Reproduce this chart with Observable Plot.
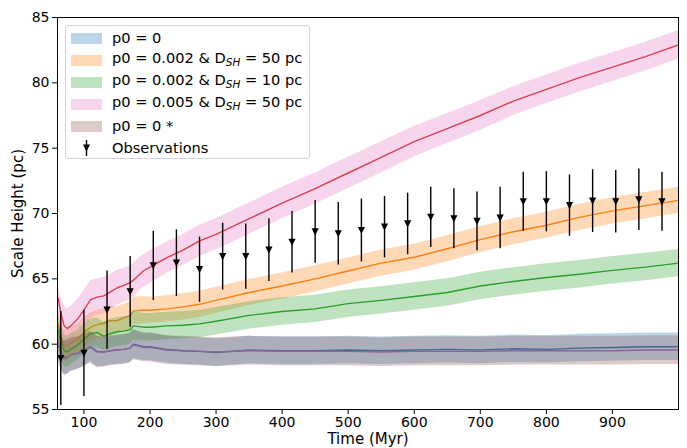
<!DOCTYPE html>
<html>
<head>
<meta charset="utf-8">
<script src="https://cdn.jsdelivr.net/npm/d3@7"></script>
<script src="https://cdn.jsdelivr.net/npm/@observablehq/plot@0.6"></script>
<style>
  html, body { margin: 0; padding: 0; background: white; }
  #wrap { position: relative; width: 687px; height: 448px; font-family: "DejaVu Sans", sans-serif; }
  #legend { position: absolute; left: 65px; top: 25px; width: 245px; height: 134px;
    border: 1px solid #d5d5d5; border-radius: 3px; background: rgba(255,255,255,0.8);
    font-size: 14.6px; color: #000; box-sizing: border-box; }
  .row { position: absolute; left: 0; height: 22px; display: flex; align-items: center; white-space: nowrap; }
  .sw { position: absolute; left: 5px; width: 31px; height: 11px; }
  .lab { position: absolute; left: 46px; line-height: 22px; }
  .lab sub { font-size: 10.5px; font-style: italic; vertical-align: -3px; }
</style>
</head>
<body>
<div id="wrap"></div>
<script>
// ---- data ----
const time = [61, 65, 70, 75, 80, 90, 100, 110, 120, 130, 140, 150, 160, 170, 175, 190, 200, 225, 250, 275, 300, 350, 400, 450, 500, 550, 600, 650, 700, 750, 800, 850, 900, 950, 1000];

// p0 = 0 (blue line / blue band)
const p0_0 = [60.2, 59.4, 59.0, 59.0, 59.2, 59.3, 59.5, 59.8, 59.45, 59.4, 59.5, 59.55, 59.6, 59.7, 60.0, 59.8, 59.8, 59.6, 59.5, 59.45, 59.35, 59.55, 59.5, 59.5, 59.55, 59.5, 59.55, 59.6, 59.55, 59.65, 59.6, 59.7, 59.75, 59.8, 59.8];
const p0_0_err = [1.2, 1.25, 1.3, 1.3, 1.25, 1.2, 1.2, 1.15, 1.15, 1.1, 1.1, 1.1, 1.1, 1.1, 1.1, 1.05, 1.05, 1.05, 1.05, 1.05, 1.05, 1.05, 1.05, 1.05, 1.05, 1.05, 1.05, 1.05, 1.05, 1.05, 1.05, 1.05, 1.05, 1.05, 1.05];

// p0 = 0.002 & DSH = 50 pc (orange)
const p0_002_50 = [61.5, 60.6, 59.9, 59.9, 60.1, 60.4, 60.9, 61.3, 61.5, 61.6, 61.8, 61.8, 62.0, 62.2, 62.55, 62.6, 62.6, 62.7, 62.85, 63.05, 63.35, 63.95, 64.45, 65.0, 65.6, 66.2, 66.65, 67.3, 68.0, 68.6, 69.1, 69.7, 70.2, 70.6, 71.0];
const p0_002_50_err = [1.2, 1.2, 1.2, 1.2, 1.2, 1.15, 1.15, 1.1, 1.1, 1.1, 1.1, 1.05, 1.05, 1.05, 1.05, 1.05, 1.0, 1.0, 1.0, 1.0, 1.0, 1.0, 1.0, 1.0, 1.0, 1.0, 1.0, 1.0, 1.0, 1.0, 1.0, 1.0, 1.0, 1.0, 1.0];

// p0 = 0.002 & DSH = 10 pc (green)
const p0_002_10 = [61.1, 60.2, 59.5, 59.4, 59.6, 59.9, 60.4, 60.8, 60.9, 60.6, 60.8, 60.95, 61.0, 61.1, 61.4, 61.3, 61.3, 61.4, 61.45, 61.55, 61.75, 62.2, 62.5, 62.7, 63.1, 63.35, 63.65, 63.95, 64.45, 64.8, 65.1, 65.35, 65.65, 65.9, 66.2];
const p0_002_10_err = [1.2, 1.2, 1.2, 1.2, 1.2, 1.15, 1.15, 1.1, 1.1, 1.1, 1.1, 1.1, 1.1, 1.1, 1.1, 1.05, 1.05, 1.05, 1.05, 1.05, 1.05, 1.05, 1.05, 1.05, 1.05, 1.05, 1.05, 1.05, 1.05, 1.05, 1.05, 1.05, 1.05, 1.05, 1.05];

// p0 = 0.005 & DSH = 50 pc (red line / pink band)
const p0_005_50 = [63.5, 62.4, 61.4, 61.2, 61.4, 61.9, 62.6, 63.4, 63.6, 63.7, 64.0, 64.3, 64.5, 64.7, 64.9, 65.6, 65.9, 66.6, 67.2, 67.9, 68.4, 69.6, 70.8, 71.9, 73.1, 74.3, 75.5, 76.5, 77.5, 78.6, 79.5, 80.4, 81.2, 82.0, 82.9];
const p0_005_50_err = [1.0, 1.3, 1.5, 1.5, 1.5, 1.5, 1.5, 1.45, 1.4, 1.4, 1.35, 1.35, 1.3, 1.3, 1.3, 1.25, 1.25, 1.2, 1.2, 1.2, 1.2, 1.2, 1.2, 1.2, 1.2, 1.2, 1.15, 1.15, 1.15, 1.1, 1.1, 1.1, 1.1, 1.1, 1.1];

// p0 = 0 * (purple line / brown band)
const p0_0_star = [60.0, 59.3, 58.9, 59.0, 59.2, 59.3, 59.55, 59.75, 59.4, 59.4, 59.5, 59.55, 59.6, 59.7, 59.95, 59.75, 59.75, 59.55, 59.5, 59.45, 59.4, 59.5, 59.45, 59.45, 59.45, 59.4, 59.45, 59.45, 59.45, 59.5, 59.5, 59.5, 59.5, 59.55, 59.55];
const p0_0_star_err = [1.2, 1.25, 1.3, 1.3, 1.3, 1.25, 1.25, 1.2, 1.2, 1.15, 1.15, 1.15, 1.15, 1.15, 1.15, 1.1, 1.1, 1.1, 1.1, 1.1, 1.1, 1.1, 1.1, 1.1, 1.1, 1.1, 1.1, 1.1, 1.1, 1.1, 1.1, 1.1, 1.1, 1.1, 1.1];

// Observations
const obsTime = [65, 100, 135, 170, 205, 240, 275, 310, 345, 380, 415, 450, 485, 520, 555, 590, 625, 660, 695, 730, 765, 800, 835, 870, 905, 940, 975];
const obsValue = [58.9, 59.3, 62.6, 64.0, 66.0, 66.2, 65.7, 66.7, 66.7, 67.2, 67.8, 68.6, 68.45, 68.7, 68.95, 69.2, 69.7, 69.6, 69.4, 69.65, 70.9, 70.9, 70.6, 70.95, 70.9, 71.05, 70.9];
const obsErr = [3.6, 3.3, 3.0, 2.7, 2.65, 2.55, 2.5, 2.55, 2.5, 2.4, 2.35, 2.4, 2.4, 2.4, 2.35, 2.35, 2.3, 2.3, 2.25, 2.35, 2.25, 2.3, 2.35, 2.4, 2.4, 2.35, 2.25];

const xTicks = [100, 200, 300, 400, 500, 600, 700, 800, 900];
const yTicks = [55, 60, 65, 70, 75, 80, 85];

const seriesLabels = ["p0 = 0", "p0 = 0.002 & D<sub>SH</sub> = 50 pc", "p0 = 0.002 & D<sub>SH</sub> = 10 pc", "p0 = 0.005 & D<sub>SH</sub> = 50 pc", "p0 = 0 *"];
const lineColors = ["#1f77b4", "#ff7f0e", "#2ca02c", "#d62728", "#9467bd"];
const bandColors = ["#1f77b4", "#ff7f0e", "#2ca02c", "#e377c2", "#8c564b"];
const obsLabel = "Observations";
const xLabel = "Time (Myr)";
const yLabel = "Scale Height (pc)";

// ---- build ----
const seriesValues = [p0_0, p0_002_50, p0_002_10, p0_005_50, p0_0_star];
const seriesErrs = [p0_0_err, p0_002_50_err, p0_002_10_err, p0_005_50_err, p0_0_star_err];
const rows = seriesValues.map((vals, i) => time.map((t, j) => ({t, v: vals[j], e: seriesErrs[i][j]})));
const obs = obsTime.map((t, i) => ({t, v: obsValue[i], e: obsErr[i]}));

const triDown = {
  draw(ctx, size) {
    const r = Math.sqrt(size / Math.PI);
    ctx.moveTo(0, r);
    ctx.lineTo(-r, -r);
    ctx.lineTo(r, -r);
    ctx.closePath();
  }
};

const marks = [];
rows.forEach((data, i) => {
  marks.push(Plot.lineY(data, {x: "t", y: "v", stroke: lineColors[i], strokeWidth: 1.4}));
  marks.push(Plot.areaY(data, {x: "t", y1: d => d.v - d.e, y2: d => d.v + d.e, fill: bandColors[i], fillOpacity: 0.3}));
});
marks.push(Plot.ruleX(obs, {x: "t", y1: d => d.v - d.e, y2: d => d.v + d.e, stroke: "black", strokeWidth: 1.4}));
marks.push(Plot.dot(obs, {x: "t", y: "v", symbol: triDown, r: 3.6, fill: "black", stroke: "none"}));
// tick labels
marks.push(Plot.axisX({ticks: xTicks, tickSize: 5, tickPadding: 3, label: null, fontSize: 14}));
marks.push(Plot.axisY({ticks: yTicks, tickSize: 5, tickPadding: 3, label: null, fontSize: 14}));
// axis titles
marks.push(Plot.axisX({ticks: [], tickSize: 0, label: xLabel, labelAnchor: "center", labelArrow: "none", labelOffset: 34, fontSize: 15}));
marks.push(Plot.axisY({ticks: [], tickSize: 0, label: yLabel, labelAnchor: "center", labelArrow: "none", labelOffset: 45, fontSize: 15}));
marks.push(Plot.frame({stroke: "black", strokeWidth: 1}));

const chart = Plot.plot({
  width: 687,
  height: 448,
  marginLeft: 57,
  marginRight: 9,
  marginTop: 17,
  marginBottom: 39,
  x: {domain: [60, 1000]},
  y: {domain: [55, 85]},
  style: {fontFamily: "DejaVu Sans", fontSize: "14px", background: "white", color: "black"},
  marks
});

const wrap = document.getElementById("wrap");
wrap.appendChild(chart);

// legend overlay
const legend = document.createElement("div");
legend.id = "legend";
const rowTop = 1;
seriesLabels.forEach((lab, i) => {
  const r = document.createElement("div");
  r.className = "row";
  r.style.top = (rowTop + i * 22) + "px";
  r.innerHTML = `<span class="sw" style="background:${bandColors[i]};opacity:0.3"></span><span class="lab">${lab}</span>`;
  legend.appendChild(r);
});
const ro = document.createElement("div");
ro.className = "row";
ro.style.top = (rowTop + 5 * 22) + "px";
ro.innerHTML = `<svg class="sw" width="31" height="22" style="top:0;height:22px"><line x1="15.5" x2="15.5" y1="3" y2="19" stroke="black" stroke-width="1.4"/><path d="M12,7.5 L19,7.5 L15.5,14.5 Z" fill="black"/></svg><span class="lab">${obsLabel}</span>`;
legend.appendChild(ro);
wrap.appendChild(legend);
</script>
</body>
</html>
